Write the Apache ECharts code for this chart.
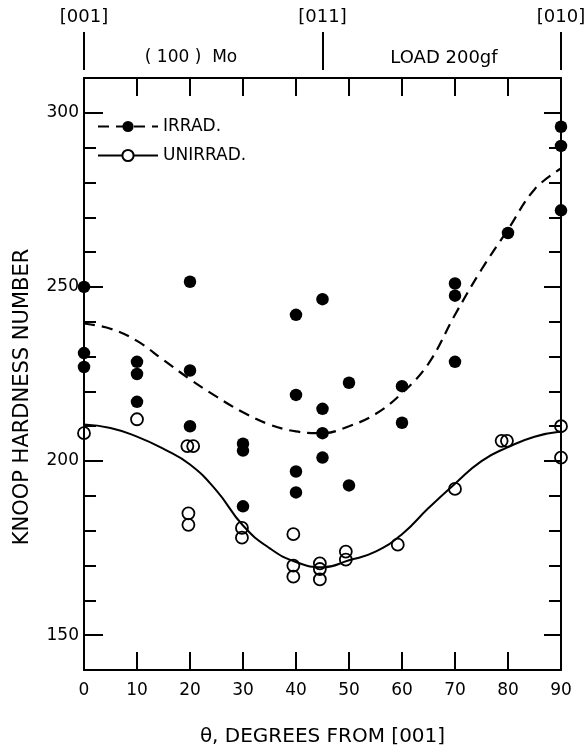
<!DOCTYPE html>
<html>
<head>
<meta charset="utf-8">
<script src="https://cdn.jsdelivr.net/npm/echarts@6/dist/echarts.min.js"></script>
<style>
  html, body { margin: 0; padding: 0; background: #fff; }
  #chart { width: 588px; height: 746px; }
</style>
</head>
<body>
<div id="chart"></div>
<script>
// measured points, IRRAD. (filled)
const irradTheta = [0, 0, 0, 10, 10, 10, 20, 20, 20, 30, 30, 30, 40, 40, 40, 40,
                    45, 45, 45, 45, 50, 50, 60, 60, 70, 70, 70, 80, 90, 90, 90];
const irradHv = [250, 231, 227, 228.5, 225, 217, 251.5, 226, 210, 205, 203, 187, 242, 219, 197, 191,
                 246.5, 215, 208, 201, 222.5, 193, 221.5, 211, 251, 247.5, 228.5, 265.5, 296, 290.5, 272];

// measured points, UNIRRAD. (open)
const unirradTheta = [0, 10, 19.5, 20.6, 19.7, 19.7, 29.8, 29.8, 39.5, 39.5, 39.5,
                      44.5, 44.5, 44.5, 49.4, 49.4, 59.2, 70, 78.8, 79.8, 90, 90];
const unirradHv = [208, 212, 204.3, 204.3, 185, 181.7, 180.8, 178, 179, 170, 166.8,
                   170.6, 169, 166, 174, 171.7, 176, 192, 205.8, 205.8, 210, 201];

// fitted curves
const fitTheta = [0, 5, 10, 15, 20, 25, 30, 35, 40, 45, 50, 55, 60, 65, 70, 75, 80, 85, 90];
const irradFit = [239.5, 238, 234.5, 229, 223.5, 218.5, 214, 210.5, 208.5, 208, 210, 213.5,
                  219.5, 228, 242, 255, 266.5, 278, 284];
const unirradFit = [210.5, 209.5, 207, 203.5, 199, 191.5, 181.5, 175, 171, 169.5, 171.5, 174,
                    179, 186.5, 193.5, 200, 204, 207, 208.5];

// tick labels
const hvLabels = [150, 200, 250, 300];
const dirTheta = [0, 45, 90];
const dirLabels = ['[001]', '[011]', '[010]'];

const font = 'DejaVu Sans';
const ink = '#000';
const pairs = (xs, ys) => xs.map((x, i) => [x, ys[i]]);

const chart = echarts.init(document.getElementById('chart'));

const baseY = { type: 'value', min: 140, max: 310, splitLine: { show: false } };
const baseX = { type: 'value', min: 0, max: 90, splitLine: { show: false } };
const stroke = { color: ink, width: 2 };
const frame = { show: true, onZero: false, lineStyle: stroke };
const hidden = { show: false, onZero: false };

chart.setOption({
    animation: false,
    backgroundColor: '#fff',
    textStyle: { fontFamily: font, color: ink },
    grid: { left: 84, right: 27, top: 78, bottom: 76, outerBoundsMode: 'none' },
    legend: {
        data: [{ name: 'IRRAD.' }, { name: 'UNIRRAD.' }],
        orient: 'vertical',
        left: 97,
        top: 118,
        padding: 0,
        itemWidth: 60,
        itemHeight: 14,
        itemGap: 12,
        textStyle: { fontFamily: font, fontSize: 17, color: ink }
    },
    xAxis: [
        {
            ...baseX, interval: 10, position: 'bottom',
            axisLine: frame,
            axisTick: { inside: true, length: 18, lineStyle: stroke },
            axisLabel: { margin: 12, color: ink, fontSize: 17, fontFamily: font },
            name: 'θ, DEGREES FROM [001]',
            nameLocation: 'middle',
            nameGap: 57,
            nameTextStyle: { fontFamily: font, fontSize: 20, color: ink }
        },
        {
            ...baseX, interval: 10, position: 'top',
            axisLine: frame,
            axisTick: { inside: true, length: 18, lineStyle: stroke },
            axisLabel: { show: false }
        },
        {
            ...baseX, position: 'top', offset: 8,
            axisLine: hidden,
            axisTick: { show: true, inside: false, length: 38, customValues: dirTheta, lineStyle: stroke },
            axisLabel: {
                customValues: dirTheta,
                formatter: v => dirLabels[dirTheta.indexOf(v)],
                margin: 44, color: ink, fontSize: 18, fontFamily: font
            }
        }
    ],
    yAxis: [
        {
            ...baseY, interval: 10, position: 'left',
            axisLine: frame,
            axisTick: { inside: true, length: 12, lineStyle: stroke },
            axisLabel: { show: false }
        },
        {
            ...baseY, position: 'left',
            axisLine: hidden,
            axisTick: { inside: true, length: 19, customValues: hvLabels, lineStyle: stroke },
            axisLabel: { customValues: hvLabels, margin: 5, color: ink, fontSize: 17, fontFamily: font }
        },
        {
            ...baseY, interval: 10, position: 'right',
            axisLine: frame,
            axisTick: { inside: true, length: 12, lineStyle: stroke },
            axisLabel: { show: false }
        },
        {
            ...baseY, position: 'right',
            axisLine: hidden,
            axisTick: { inside: true, length: 17, customValues: hvLabels, lineStyle: stroke },
            axisLabel: { show: false }
        }
    ],
    graphic: [
        { type: 'text', x: 191, y: 58, style: { text: '( 100 )  Mo', font: '17px "DejaVu Sans"', fill: ink, align: 'center', verticalAlign: 'middle' } },
        { type: 'text', x: 444, y: 58, style: { text: 'LOAD 200gf', font: '18px "DejaVu Sans"', fill: ink, align: 'center', verticalAlign: 'middle' } },
        { type: 'text', x: 23, y: 397, rotation: Math.PI / 2, style: { text: 'KNOOP HARDNESS NUMBER', font: '21px "DejaVu Sans"', fill: ink, align: 'center', verticalAlign: 'middle' } }
    ],
    series: [
        {
            name: 'IRRAD.', type: 'line', smooth: 0.4,
            showSymbol: false, symbol: 'circle',
            data: pairs(fitTheta, irradFit),
            lineStyle: { color: ink, width: 2.2, type: [11, 7] },
            itemStyle: { color: ink }
        },
        {
            name: 'UNIRRAD.', type: 'line', smooth: 0.5,
            showSymbol: false, symbol: 'emptyCircle',
            data: pairs(fitTheta, unirradFit),
            lineStyle: { color: ink, width: 2 },
            itemStyle: { color: ink }
        },
        {
            name: 'irrad points', type: 'scatter', symbol: 'circle', symbolSize: 12.5,
            data: pairs(irradTheta, irradHv),
            itemStyle: { color: ink, opacity: 1 }
        },
        {
            name: 'unirrad points', type: 'scatter', symbol: 'circle', symbolSize: 12,
            data: pairs(unirradTheta, unirradHv),
            itemStyle: { color: 'rgba(255,255,255,0)', borderColor: ink, borderWidth: 1.8, opacity: 1 }
        }
    ]
});
</script>
</body>
</html>
